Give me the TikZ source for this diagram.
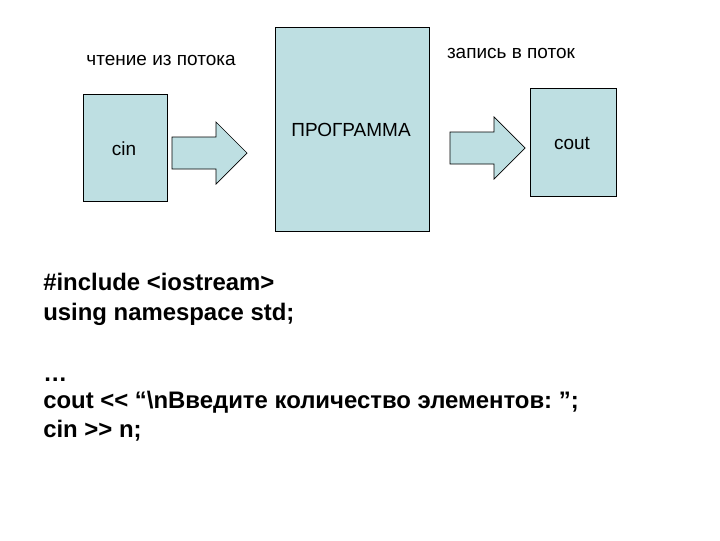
\documentclass[tikz,border=0pt]{standalone}
\usepackage{fontspec}
\setmainfont{Liberation Sans}
\usetikzlibrary{calc}

\definecolor{boxfill}{RGB}{190,223,226}

\begin{document}
\begin{tikzpicture}[x=0.025cm, y=-0.025cm,
    box/.style={draw, line width=0.7pt, fill=boxfill},
    blockarrow/.style={draw, line width=0.5pt, fill=boxfill},
    label/.style={font=\fontsize{13.5}{16}\selectfont},
    code/.style={anchor=base west, inner sep=0pt, font=\bfseries\fontsize{17}{21}\selectfont}]
    \useasboundingbox (0, 0) rectangle (720, 540);

    % streams and program
    \draw[box] (83, 94) rectangle (167, 201);
    \node[label] (cin) at (124, 149) {cin};
    \draw[box] (275, 27) rectangle (429, 231);
    \node[label] (prog) at (351, 130) {ПРОГРАММА};
    \draw[box] (530, 88) rectangle (616, 196);
    \node[label] (cout) at (572, 143) {cout};

    \node[label] (read) at (161, 60) {чтение из потока};
    \node[label] (write) at (511, 53) {запись в поток};

    % block arrows
    \coordinate (in) at (172, 153);
    \draw[blockarrow] (in) ++(0, -16) -- ++(44, 0) -- ++(0, -15) -- ++(31, 31)
        -- ++(-31, 31) -- ++(0, -15) -- ++(-44, 0) -- cycle;
    \coordinate (out) at (450, 148);
    \draw[blockarrow] (out) ++(0, -16) -- ++(44, 0) -- ++(0, -15) -- ++(31, 31)
        -- ++(-31, 31) -- ++(0, -15) -- ++(-44, 0) -- cycle;

    % code
    \node[code] (inc) at (43, 290) {\#include <iostream>};
    \node[code] (ns) at (43, 320) {using namespace std;};
    \node[code] (dots) at (43, 381) {…};
    \node[code] (wr) at (43, 408) {cout <{}< “\textbackslash nВведите количество элементов:~”;};
    \node[code] (rd) at (43, 437) {cin >{}> n;};
\end{tikzpicture}
\end{document}
